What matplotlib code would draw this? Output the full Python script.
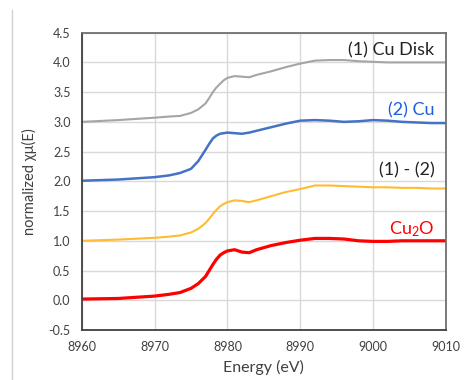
import matplotlib
matplotlib.use("Agg")
import matplotlib.pyplot as plt
from matplotlib.lines import Line2D

plt.rcParams['font.family'] = ['Lato', 'DejaVu Sans']
plt.rcParams['mathtext.fontset'] = 'custom'
plt.rcParams['mathtext.rm'] = 'Lato'
plt.rcParams['mathtext.it'] = 'Lato'

# energy grid (eV) shared by all spectra
energy = [8960, 8965, 8970, 8972, 8973.5, 8975, 8976, 8977, 8977.5, 8978, 8978.5,
          8979, 8979.5, 8980, 8981, 8982, 8983, 8984, 8986, 8988, 8990, 8992,
          8994, 8996, 8998, 9000, 9002, 9004, 9006, 9008, 9010]

cu_disk = [3.00, 3.03, 3.07, 3.09, 3.10, 3.15, 3.21, 3.31, 3.40, 3.50, 3.58,
           3.64, 3.70, 3.74, 3.77, 3.76, 3.75, 3.79, 3.85, 3.92, 3.98, 4.03,
           4.04, 4.04, 4.02, 4.01, 4.00, 4.00, 4.00, 4.00, 4.00]
cu = [2.01, 2.03, 2.07, 2.10, 2.14, 2.21, 2.34, 2.53, 2.63, 2.72, 2.77,
      2.80, 2.81, 2.82, 2.81, 2.80, 2.82, 2.85, 2.91, 2.97, 3.02, 3.03,
      3.02, 3.00, 3.01, 3.03, 3.02, 3.00, 2.99, 2.98, 2.98]
diff = [1.00, 1.02, 1.05, 1.07, 1.09, 1.14, 1.20, 1.30, 1.37, 1.45, 1.52,
        1.58, 1.62, 1.65, 1.68, 1.67, 1.65, 1.68, 1.75, 1.82, 1.87, 1.93,
        1.93, 1.92, 1.91, 1.90, 1.90, 1.89, 1.89, 1.88, 1.88]
cu2o = [0.02, 0.03, 0.07, 0.10, 0.13, 0.20, 0.28, 0.40, 0.50, 0.60, 0.69,
        0.76, 0.80, 0.83, 0.85, 0.81, 0.80, 0.85, 0.92, 0.97, 1.01, 1.04,
        1.04, 1.03, 1.00, 0.99, 0.99, 1.00, 1.00, 1.00, 1.00]

labels = ['(1) Cu Disk', '(2) Cu', '(1) - (2)', 'Cu$_2$O']
label_y = [4.21, 3.20, 2.18, 1.19]

fig = plt.figure(figsize=(4.66, 3.80), dpi=100)
ax = fig.add_axes([0.1753, 0.1316, 0.957 - 0.1753, 0.914 - 0.1316])

ax.plot(energy, cu_disk, color='#a5a5a5', lw=1.5)
ax.plot(energy, cu, color='#4472c4', lw=1.8)
ax.plot(energy, diff, color='#ffbb33', lw=1.5)
ax.plot(energy, cu2o, color='#ff0000', lw=2.3)

txt_colors = ['#222222', '#1f5ce0', '#222222', '#ff0000']
for lab, yy, c in zip(labels, label_y, txt_colors):
    ax.text(9008.4, yy, lab, color=c, fontsize=13, ha='right', va='center')

ax.set_xlim(8960, 9010)
ax.set_ylim(-0.5, 4.5)
ax.set_xticks(range(8960, 9011, 10))
ax.set_yticks([i * 0.5 for i in range(-1, 10)])
ax.set_yticklabels([f"{i * 0.5:.1f}" for i in range(-1, 10)])
ax.grid(True, color='#d9d9d9', lw=1)
ax.set_axisbelow(True)
ax.tick_params(length=0, labelsize=9, colors='#404040', pad=8)

for side in ['left', 'bottom']:
    ax.spines[side].set_color('#404040')
    ax.spines[side].set_linewidth(1.3)
for side in ['top', 'right']:
    ax.spines[side].set_color('#707070')
    ax.spines[side].set_linewidth(1.3)

ax.set_xlabel('Energy (eV)', fontsize=11.5, color='#404040', labelpad=5)
ax.set_ylabel('normalized χμ(E)', fontsize=10.5, color='#404040', labelpad=8)

# light border line on the left edge of the chart box
fig.add_artist(Line2D([12 / 466, 12 / 466], [0, 1 - 10 / 380], color='#d0d0d0', lw=1))

fig.savefig('out.png', dpi=100)
